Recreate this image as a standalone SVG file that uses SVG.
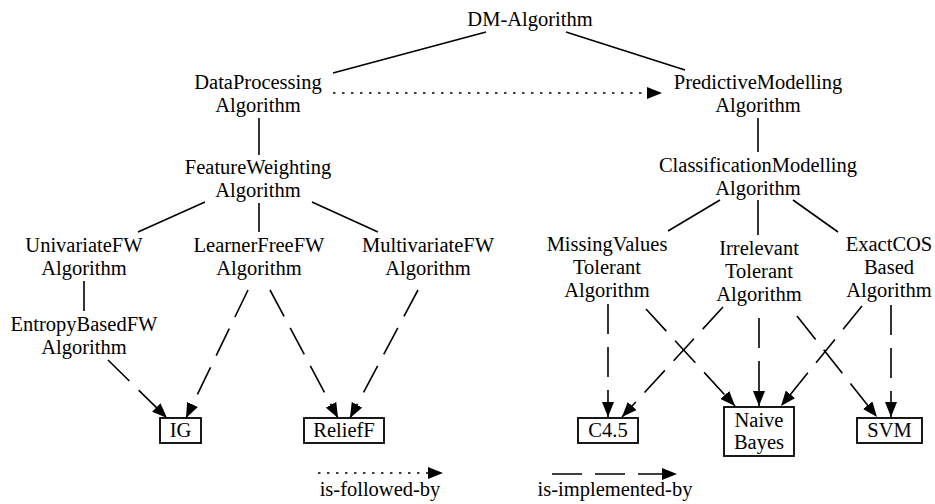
<svg xmlns="http://www.w3.org/2000/svg" width="935" height="504" viewBox="0 0 935 504">
<style>
text{font-family:'Liberation Serif','Noto Serif','DejaVu Serif',serif;font-size:20.5px;fill:#000;text-anchor:middle}
.s{stroke:#000;stroke-width:1.6;fill:none}
.dot{stroke:#000;stroke-width:1.4;fill:none;stroke-dasharray:2.5 6.5}
.dash{stroke:#000;stroke-width:1.6;fill:none;stroke-dasharray:30 13}
.box{fill:#fff;stroke:#000;stroke-width:1.8}
</style>
<defs>
<marker id="ah" markerUnits="userSpaceOnUse" markerWidth="16" markerHeight="12" refX="15" refY="6" orient="auto">
<path d="M0,0 L15,6 L0,12 z" fill="#000"/>
</marker>
</defs>
<g id="connectors">
<line class="s" x1="333" y1="73" x2="486" y2="32"/>
<line class="s" x1="566" y1="32" x2="685" y2="70"/>
<line class="s" x1="259" y1="118" x2="259" y2="155"/>
<line class="s" x1="205" y1="202" x2="138" y2="232"/>
<line class="s" x1="259" y1="203" x2="259" y2="232"/>
<line class="s" x1="312" y1="202" x2="378" y2="232"/>
<line class="s" x1="84" y1="281" x2="84" y2="311"/>
<line class="s" x1="758" y1="118" x2="758" y2="152"/>
<line class="s" x1="720" y1="200" x2="668" y2="231"/>
<line class="s" x1="758" y1="200" x2="758" y2="235"/>
<line class="s" x1="793" y1="200" x2="838" y2="232"/>
<line class="dot" x1="333" y1="93" x2="662" y2="93" marker-end="url(#ah)"/>
<line class="dash" x1="108" y1="360" x2="167" y2="418" marker-end="url(#ah)"/>
<line class="dash" x1="248" y1="290" x2="186" y2="418" marker-end="url(#ah)"/>
<line class="dash" x1="270" y1="290" x2="338" y2="418" marker-end="url(#ah)"/>
<line class="dash" x1="418" y1="290" x2="350" y2="418" marker-end="url(#ah)"/>
<line class="dash" x1="608" y1="304" x2="608" y2="417" marker-end="url(#ah)"/>
<line class="dash" x1="646" y1="309" x2="735" y2="406" marker-end="url(#ah)"/>
<line class="dash" x1="723" y1="307" x2="622" y2="417" marker-end="url(#ah)"/>
<line class="dash" x1="759" y1="318" x2="759" y2="406" marker-end="url(#ah)"/>
<line class="dash" x1="797" y1="316" x2="877" y2="417" marker-end="url(#ah)"/>
<line class="dash" x1="862" y1="306" x2="781" y2="406" marker-end="url(#ah)"/>
<line class="dash" x1="891" y1="305" x2="891" y2="417" marker-end="url(#ah)"/>
<line class="dot" x1="318" y1="473" x2="443" y2="473" marker-end="url(#ah)"/>
<line class="dash" x1="552" y1="474" x2="677" y2="474" marker-end="url(#ah)"/>
</g>
<g id="dm"><text x="530" y="26">DM-Algorithm</text></g>
<g id="dataprocessing"><text x="258" y="89">DataProcessing</text><text x="258" y="112">Algorithm</text></g>
<g id="predictive"><text x="758" y="89">PredictiveModelling</text><text x="758" y="112">Algorithm</text></g>
<g id="featureweighting"><text x="258" y="174">FeatureWeighting</text><text x="258" y="197">Algorithm</text></g>
<g id="classification"><text x="758" y="172">ClassificationModelling</text><text x="758" y="195">Algorithm</text></g>
<g id="univariate"><text x="84" y="252">UnivariateFW</text><text x="84" y="275">Algorithm</text></g>
<g id="learnerfree"><text x="259" y="252">LearnerFreeFW</text><text x="259" y="275">Algorithm</text></g>
<g id="multivariate"><text x="428" y="252">MultivariateFW</text><text x="428" y="275">Algorithm</text></g>
<g id="entropy"><text x="84" y="331">EntropyBasedFW</text><text x="84" y="354">Algorithm</text></g>
<g id="missing"><text x="607" y="251">MissingValues</text><text x="607" y="274">Tolerant</text><text x="607" y="297">Algorithm</text></g>
<g id="irrelevant"><text x="759" y="255">Irrelevant</text><text x="759" y="278">Tolerant</text><text x="759" y="301">Algorithm</text></g>
<g id="exactcos"><text x="889" y="251">ExactCOS</text><text x="889" y="274">Based</text><text x="889" y="297">Algorithm</text></g>
<g id="ig"><rect class="box" x="160" y="418" width="41" height="25"/><text x="180.5" y="437">IG</text></g>
<g id="relieff"><rect class="box" x="304" y="418" width="80" height="25"/><text x="344" y="437">ReliefF</text></g>
<g id="c45"><rect class="box" x="578" y="418" width="60" height="25"/><text x="608" y="437">C4.5</text></g>
<g id="naivebayes"><rect class="box" x="724" y="407" width="70" height="49"/><text x="759" y="427">Naive</text><text x="759" y="449">Bayes</text></g>
<g id="svm"><rect class="box" x="857" y="418" width="65" height="25"/><text x="889.5" y="437">SVM</text></g>
<g id="legend"><text x="380" y="496">is-followed-by</text><text x="615" y="496">is-implemented-by</text></g>
</svg>
